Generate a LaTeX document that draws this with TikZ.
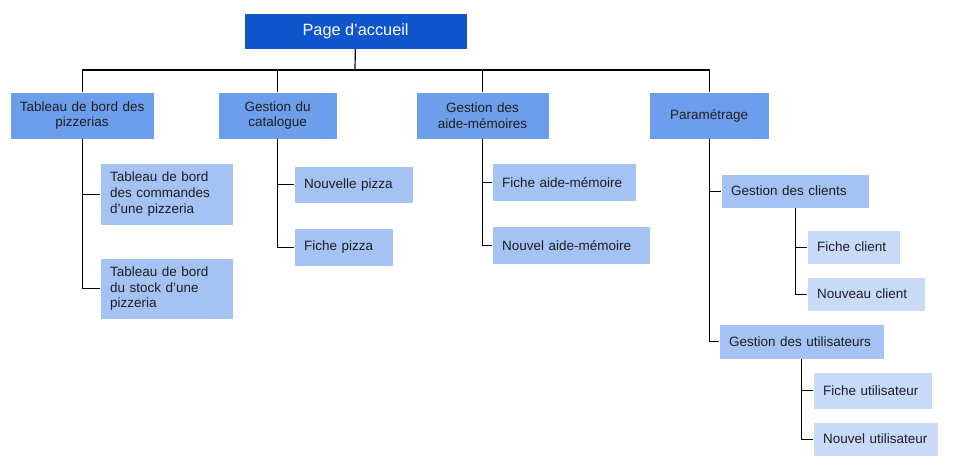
\documentclass[tikz,border=0pt]{standalone}
\usepackage{fontspec}
\setmainfont{Liberation Sans}
\usepackage{tikz}
\usetikzlibrary{positioning}
\definecolor{HomeBlue}{HTML}{1155CC}
\definecolor{MenuBlue}{HTML}{6D9EEB}
\definecolor{PageBlue}{HTML}{A4C2F4}
\definecolor{SubBlue}{HTML}{C9DAF8}
\definecolor{InkGray}{HTML}{1F1F1F}

\begin{document}
\begin{tikzpicture}[x=1pt,y=-1pt,line width=1.2pt]
  \tikzstyle{homebox}=[fill=HomeBlue,text=white,anchor=north west,
    inner sep=0pt,align=center,font=\fontsize{16.3}{19}\selectfont]
  \tikzstyle{menubox}=[fill=MenuBlue,text=InkGray,anchor=north west,
    inner xsep=6pt,inner ysep=0pt,align=center,
    font=\fontsize{13.5}{15.7}\selectfont]
  \tikzstyle{pagebox}=[fill=PageBlue,text=InkGray,anchor=north west,
    inner xsep=9.5pt,inner ysep=0pt,align=left,
    font=\fontsize{13.5}{15.7}\selectfont]
  \tikzstyle{subbox}=[pagebox,fill=SubBlue]
  \useasboundingbox (0,0) rectangle (956,476);
  % top
  \node[homebox,minimum width=222pt,minimum height=35pt] (home) at (244,13) {Page d’accueil};
  \coordinate (bus) at (355,70);
  % first level
  \node[menubox,text width=131pt,minimum height=46pt] (board) at (10,92) {Tableau de bord des\\pizzerias};
  \node[menubox,text width=106pt,minimum height=46pt] (catalog) at (218,92) {Gestion du\\catalogue};
  \node[menubox,text width=120pt,minimum height=46pt] (memo) at (416,92) {Gestion des\\aide-mémoires};
  \node[menubox,text width=107pt,minimum height=46pt] (settings) at (649,92) {Paramétrage};
  % pages
  \node[pagebox,text width=113pt,minimum height=61pt] (boardorders) at (100,163) {Tableau de bord\\des commandes\\d’une pizzeria};
  \node[pagebox,text width=113pt,minimum height=60pt] (boardstock) at (100,258) {Tableau de bord\\du stock d’une\\pizzeria};
  \node[pagebox,text width=99pt,minimum height=36pt] (newpizza) at (294,166) {Nouvelle pizza};
  \node[pagebox,text width=79pt,minimum height=37pt] (pizzacard) at (294,228) {Fiche pizza};
  \node[pagebox,text width=124pt,minimum height=37pt] (memocard) at (492,163) {Fiche aide-mémoire};
  \node[pagebox,text width=138pt,minimum height=37pt] (newmemo) at (492,226) {Nouvel aide-mémoire};
  \node[pagebox,text width=128pt,minimum height=33pt] (clients) at (721,174) {Gestion des clients};
  \node[pagebox,text width=145pt,minimum height=34pt] (users) at (719,324) {Gestion des utilisateurs};
  \node[subbox,text width=73pt,minimum height=33pt] (clientcard) at (807,230) {Fiche client};
  \node[subbox,text width=98pt,minimum height=33pt] (newclient) at (807,277) {Nouveau client};
  \node[subbox,text width=99pt,minimum height=36pt] (usercard) at (813,372) {Fiche utilisateur};
  \node[subbox,text width=105pt,minimum height=33pt] (newuser) at (813,422) {Nouvel utilisateur};
  % links
  \draw (home) -- (bus);
  \draw (bus) -| (board);
  \draw (bus) -| (catalog);
  \draw (bus) -| (memo);
  \draw (bus) -| (settings);
  \draw (board) |- (boardorders);
  \draw (board) |- (boardstock);
  \draw (catalog) |- (newpizza);
  \draw (catalog) |- (pizzacard);
  \draw (memo) |- (memocard);
  \draw (memo) |- (newmemo);
  \draw (settings) |- (clients);
  \draw (settings) |- (users);
  \draw (clients) |- (clientcard);
  \draw (clients) |- (newclient);
  \draw (users) |- (usercard);
  \draw (users) |- (newuser);
\end{tikzpicture}
\end{document}
